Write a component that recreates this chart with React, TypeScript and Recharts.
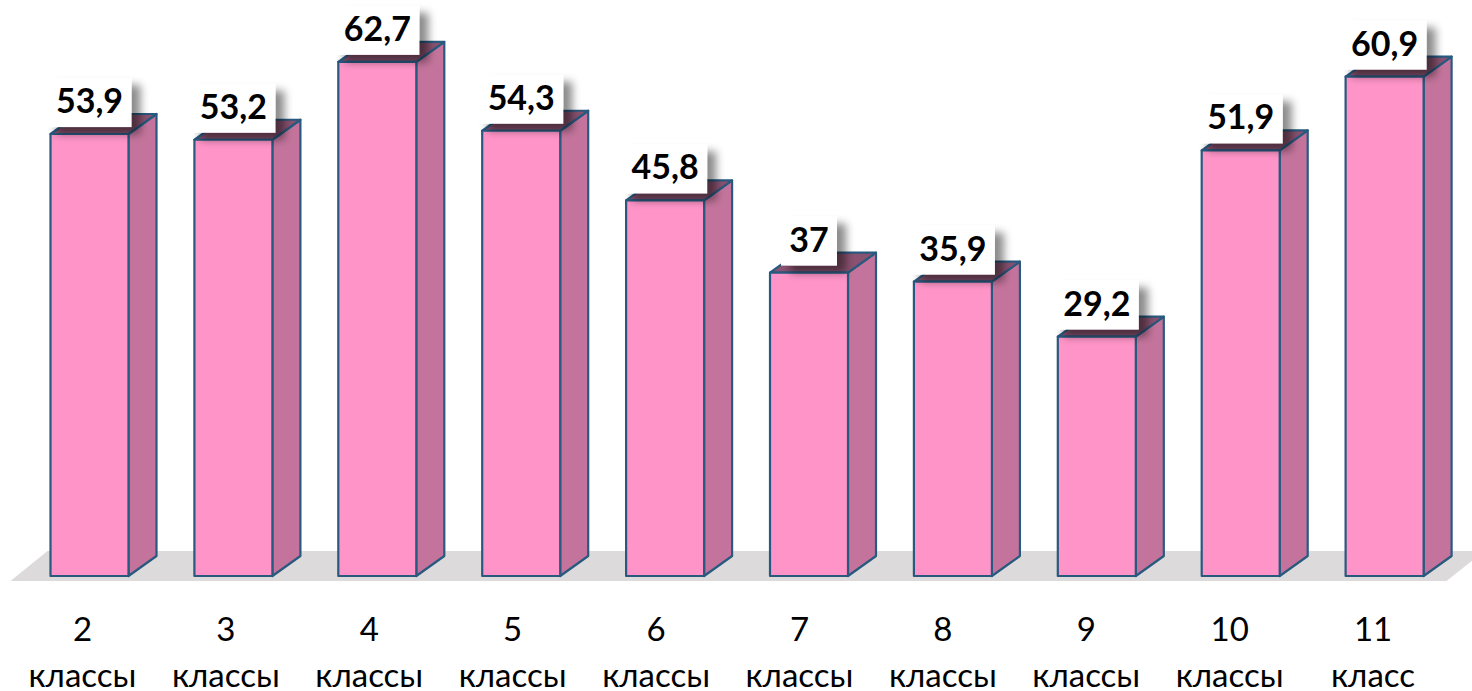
import { BarChart, Bar, XAxis, YAxis, LabelList, usePlotArea } from "recharts";

const grades = ["2", "3", "4", "5", "6", "7", "8", "9", "10", "11"];
const classWords = ["классы", "классы", "классы", "классы", "классы", "классы", "классы", "классы", "классы", "класс"];
const percents = [53.9, 53.2, 62.7, 54.3, 45.8, 37, 35.9, 29.2, 51.9, 60.9];

const chartData = grades.map((g, i) => ({
  grade: g,
  word: classWords[i],
  value: percents[i],
}));

const FONT = "Lato, 'Open Sans', sans-serif";
const DEPTH_X = 28;
const DEPTH_Y = 20;
const EDGE = "#28597f";

/* ─── Grey floor under the bars ─── */
function Floor() {
  const plot = usePlotArea();
  if (!plot) return null;
  const bottom = plot.y + plot.height;
  const left = plot.x;
  const right = plot.x + plot.width;
  const points = [
    [left - 7, bottom + 5],
    [left + 30, bottom - 25],
    [right + 28, bottom - 25],
    [right - 10, bottom + 5],
  ];
  return <polygon points={points.map((p) => p.join(",")).join(" ")} fill="#dcdadb" />;
}

/* ─── Box with side and top faces ─── */
function Box3D({ x, y, width, height }: any) {
  const r = x + width;
  const b = y + height;
  return (
    <g stroke={EDGE} strokeWidth={2.2} strokeLinejoin="round">
      <polygon
        points={`${r},${y} ${r + DEPTH_X},${y - DEPTH_Y} ${r + DEPTH_X},${b - DEPTH_Y} ${r},${b}`}
        fill="#c4749c"
      />
      <polygon
        points={`${x},${y} ${x + DEPTH_X},${y - DEPTH_Y} ${r + DEPTH_X},${y - DEPTH_Y} ${r},${y}`}
        fill="#8a5270"
      />
      <rect x={x} y={y} width={width} height={height} fill="#ff94c8" />
    </g>
  );
}

/* ─── White value tag with a drop shadow ─── */
function ValueTag({ x, y, width, value }: any) {
  const text = String(value).replace(".", ",");
  const digits = text.replace(",", "").length;
  const boxW = 20 + digits * 18 + (text.includes(",") ? 10 : 0);
  const cx = x + width / 2;
  return (
    <g>
      <rect x={cx - boxW / 2} y={y - 56} width={boxW} height={49} fill="#fff" filter="url(#tagShadow)" />
      <text
        x={cx}
        y={y - 21}
        textAnchor="middle"
        fontFamily={FONT}
        fontWeight={700}
        fontSize={34}
        fill="#000"
      >
        {text}
      </text>
    </g>
  );
}

// the axis labels sit a little left of the bars, more so towards the right
function ClassTick({ x, y, payload, index }: any) {
  const word = classWords[index];
  const tx = x - 7 - index * 0.5;
  return (
    <text textAnchor="middle" fontFamily={FONT} fontSize={33} fill="#000">
      <tspan x={tx} y={y + 56.5}>
        {payload.value}
      </tspan>
      <tspan x={tx} y={y + 103}>
        {word}
      </tspan>
    </text>
  );
}

export default function App() {
  return (
    <div style={{ position: "absolute", left: 0, top: 0, width: 1472, height: 691, overflow: "hidden", background: "#fff" }}>
      <BarChart
        width={1472}
        height={691}
        data={chartData}
        margin={{ top: 2, right: 15.5, left: 17.5, bottom: 0 }}
        barSize={78}
      >
        <defs>
          <filter id="tagShadow" x="-30%" y="-30%" width="170%" height="170%">
            <feDropShadow dx={9} dy={7} stdDeviation={4} floodColor="#000" floodOpacity={0.45} />
          </filter>
        </defs>
        <Floor />
        <XAxis
          dataKey="grade"
          height={115}
          axisLine={false}
          tickLine={false}
          interval={0}
          tick={<ClassTick />}
        />
        <YAxis hide domain={[0, 70]} />
        <Bar dataKey="value" shape={<Box3D />} isAnimationActive={false}>
          <LabelList dataKey="value" content={<ValueTag />} />
        </Bar>
      </BarChart>
    </div>
  );
}
